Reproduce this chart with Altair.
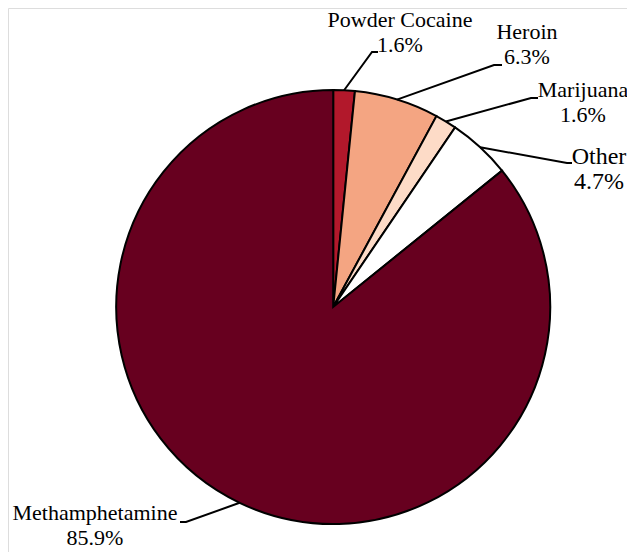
import math
import altair as alt
import pandas as pd

# ---- data ----
names = ["Powder Cocaine", "Heroin", "Marijuana", "Other", "Methamphetamine"]
values = [1.6, 6.3, 1.6, 4.7, 85.9]
colors = ["#B2182B", "#F4A582", "#FDDBC7", "#FFFFFF", "#67001F"]

# ---- layout (chart pixel coordinates, origin at top-left of plot area) ----
W, H = 619, 544
CX, CY, R = 325.2, 299.0, 217.0
label_x = [392, 519, 575, 591, 87]
label_y = [19, 31, 89, 156, 512]
label_size = [22, 22, 22, 24, 22]
elbow_x = [364, 486, 523, 559, 178]
elbow_y = [44, 57, 90, 155, 514]
end_x = [370, 494, 530, 564, 172]
end_y = [44, 57, 90, 155, 514]

FONT = "Liberation Serif"

df = pd.DataFrame({"name": names, "value": values, "idx": list(range(len(names)))})
df["label"] = [f"{n}\n{v:.1f}%" for n, v in zip(names, values)]
df["lx"] = label_x
df["ly"] = label_y
df["fs"] = label_size

# leader lines start on the pie edge at each slice's mid-angle (from data)
total = sum(values)
rows = []
cum = 0.0
for i, (n, v) in enumerate(zip(names, values)):
    mid = (cum + v / 2) / total * 2 * math.pi
    cum += v
    sx = CX + R * math.sin(mid)
    sy = CY - R * math.cos(mid)
    rows.append({"name": n, "pt": 0, "x": sx, "y": sy})
    rows.append({"name": n, "pt": 1, "x": elbow_x[i], "y": elbow_y[i]})
    rows.append({"name": n, "pt": 2, "x": end_x[i], "y": end_y[i]})
lines = pd.DataFrame(rows)

xs = alt.Scale(domain=[0, W], nice=False, zero=False)
ys = alt.Scale(domain=[0, H], nice=False, zero=False, reverse=True)

pie = alt.Chart(df).mark_arc(radius=R, stroke="black", strokeWidth=2).encode(
    theta=alt.Theta("value:Q", stack=True),
    order=alt.Order("idx:Q"),
    color=alt.Color("name:N", scale=alt.Scale(domain=names, range=colors), legend=None),
    x=alt.value(CX),
    y=alt.value(CY),
)

leaders = alt.Chart(lines).mark_line(color="black", strokeWidth=2).encode(
    x=alt.X("x:Q", scale=xs, axis=None),
    y=alt.Y("y:Q", scale=ys, axis=None),
    detail="name:N",
    order="pt:Q",
)

labels = alt.Chart(df).mark_text(
    font=FONT, align="center", baseline="alphabetic",
    lineBreak="\n", lineHeight=25, color="black",
).encode(
    x=alt.X("lx:Q", scale=xs, axis=None),
    y=alt.Y("ly:Q", scale=ys, axis=None),
    text="label:N",
    size=alt.Size("fs:Q", scale=None, legend=None),
)

chart = alt.layer(pie, leaders, labels).properties(
    width=W, height=H, padding=0, autosize=alt.AutoSizeParams(type="none")
).configure_view(stroke="transparent", strokeWidth=0).configure(background="white")

chart.save("out.html", embed_options={"renderer": "svg", "actions": False})
